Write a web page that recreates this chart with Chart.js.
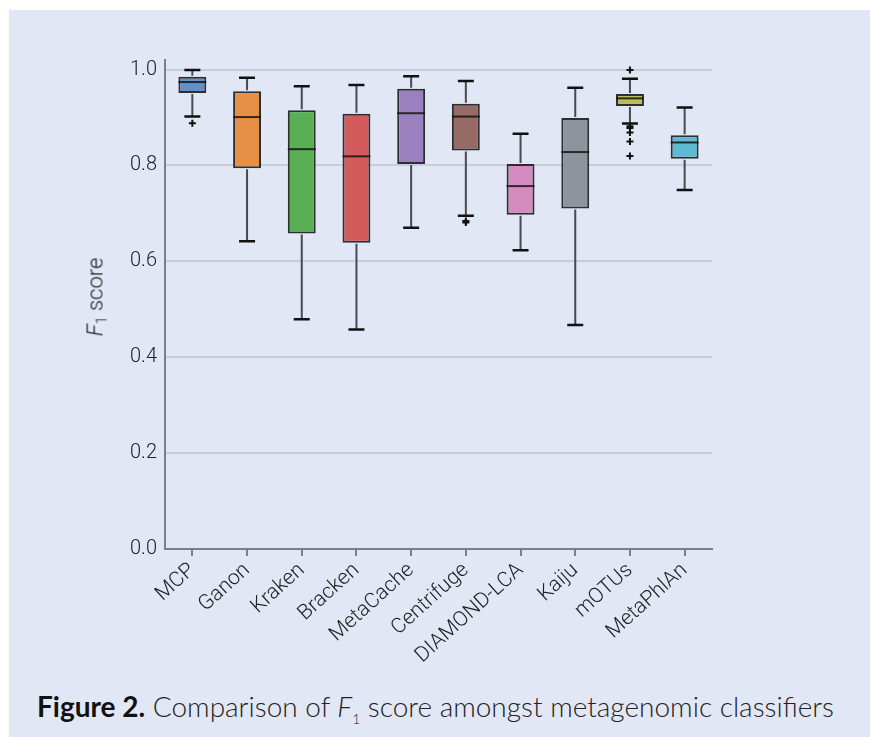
<!DOCTYPE html>
<html>
<head>
<meta charset="utf-8">
<script src="https://cdn.jsdelivr.net/npm/chart.js@4/dist/chart.umd.min.js"></script>
<style>
html,body{margin:0;padding:0;background:#ffffff;}
#fig{position:absolute;left:9px;top:10px;width:861px;height:727px;background:#e2e7f5;overflow:hidden;}
#wrap{position:absolute;left:0;top:0;width:861px;height:670px;}
#ytitle{position:absolute;left:87px;top:287px;transform:translate(-50%,-50%) rotate(-90deg);font-family:Roboto,"Open Sans",sans-serif;font-weight:300;font-size:22px;color:#222;white-space:nowrap;}
#ytitle sub{font-size:14px;vertical-align:-4px;}
#caption{position:absolute;left:28px;top:679px;font-family:Lato,"Open Sans",sans-serif;font-weight:300;font-size:28px;color:#222;white-space:nowrap;}
#caption b{font-weight:700;color:#111;}
#caption sub{font-size:14px;vertical-align:-7px;}
</style>
</head>
<body>
<div id="fig">
  <div id="wrap"><canvas id="c" width="861" height="670"></canvas></div>
  <div id="ytitle"><i>F</i><sub>1</sub> score</div>
  <div id="caption"><b>Figure 2.</b> Comparison of <i>F</i><sub>1</sub> score amongst metagenomic classifiers</div>
</div>
<script>
const categories = ['MCP','Ganon','Kraken','Bracken','MetaCache','Centrifuge','DIAMOND-LCA','Kaiju','mOTUs','MetaPhlAn'];
const whiskerLow  = [0.902, 0.642, 0.479, 0.458, 0.670, 0.695, 0.623, 0.467, 0.8875, 0.749];
const q1          = [0.951, 0.794, 0.658, 0.639, 0.803, 0.831, 0.697, 0.710, 0.924, 0.814];
const medians     = [0.974, 0.901, 0.834, 0.819, 0.909, 0.902, 0.757, 0.828, 0.940, 0.848];
const q3          = [0.985, 0.955, 0.915, 0.908, 0.960, 0.929, 0.803, 0.899, 0.949, 0.863];
const whiskerHigh = [0.999, 0.983, 0.965, 0.968, 0.986, 0.976, 0.866, 0.962, 0.981, 0.921];
const outlierCategories = ['MCP','Centrifuge','Centrifuge','mOTUs','mOTUs','mOTUs','mOTUs','mOTUs','mOTUs'];
const outlierValues     = [0.888, 0.681, 0.684, 0.999, 0.882, 0.878, 0.869, 0.850, 0.820];
const yTicks = [0, 0.2, 0.4, 0.6, 0.8, 1.0];
const boxColors = ['#6291ca','#e58f47','#5aaf55','#d45b5b','#9b80c0','#966b66','#d48bc0','#8f949c','#bcbb5b','#5ebad2'];

const boxPlugin = {
  id: 'boxParts',
  afterDatasetsDraw(chart) {
    const ctx = chart.ctx;
    const xs = chart.scales.x, ys = chart.scales.y;
    const meta = chart.getDatasetMeta(0);
    ctx.save();
    categories.forEach((c, i) => {
      const x = xs.getPixelForValue(i);
      const bar = meta.data[i];
      const half = bar.width / 2;
      const yLo = ys.getPixelForValue(whiskerLow[i]);
      const yQ1 = ys.getPixelForValue(q1[i]);
      const yQ3 = ys.getPixelForValue(q3[i]);
      const yHi = ys.getPixelForValue(whiskerHigh[i]);
      const yMed = ys.getPixelForValue(medians[i]);
      ctx.strokeStyle = '#4a4a4e';
      ctx.lineWidth = 2;
      ctx.beginPath();
      ctx.moveTo(x, yQ3 - 1); ctx.lineTo(x, yHi);
      ctx.moveTo(x, yQ1 + 1); ctx.lineTo(x, yLo);
      ctx.stroke();
      ctx.strokeStyle = '#111111';
      ctx.lineWidth = 2.5;
      ctx.beginPath();
      ctx.moveTo(x - 8, yHi); ctx.lineTo(x + 8, yHi);
      ctx.moveTo(x - 8, yLo); ctx.lineTo(x + 8, yLo);
      ctx.stroke();
      ctx.strokeStyle = 'rgba(20,20,20,0.85)';
      ctx.lineWidth = 2;
      ctx.beginPath();
      ctx.moveTo(x - half, yMed); ctx.lineTo(x + half, yMed);
      ctx.stroke();
    });
    ctx.restore();
  }
};

new Chart(document.getElementById('c'), {
  type: 'bar',
  data: {
    labels: categories,
    datasets: [
      {
        type: 'bar',
        data: categories.map((c, i) => [q1[i], q3[i]]),
        backgroundColor: boxColors,
        borderColor: 'rgba(25,25,25,0.9)',
        borderWidth: 2,
        borderSkipped: false,
        barPercentage: 0.51,
        categoryPercentage: 1.0,
        order: 2
      },
      {
        type: 'scatter',
        data: outlierCategories.map((c, i) => ({x: c, y: outlierValues[i]})),
        pointStyle: 'cross',
        radius: 3.5,
        borderColor: '#111',
        backgroundColor: '#111',
        borderWidth: 2,
        order: 1
      }
    ]
  },
  options: {
    responsive: false,
    animation: false,
    devicePixelRatio: 1,
    layout: { padding: { left: 0, right: 158, top: 50, bottom: 0 } },
    plugins: { legend: { display: false }, tooltip: { enabled: false }, title: { display: false } },
    scales: {
      x: {
        type: 'category',
        offset: true,
        afterFit(scale) { scale.height = 131; },
        grid: { offset: false, drawOnChartArea: false, drawTicks: true, tickLength: 7, color: '#7b7f88', lineWidth: 2 },
        border: { color: '#7b7f88', width: 2 },
        ticks: {
          minRotation: 42, maxRotation: 42, padding: 2,
          color: '#222', font: { family: 'Roboto', size: 21, weight: '300' }
        }
      },
      y: {
        min: 0, max: 1.02,
        afterFit(scale) { scale.width = 156; },
        afterBuildTicks(scale) { scale.ticks = yTicks.map(v => ({ value: v })); },
        grid: { drawTicks: false, color: '#c9ccdb', lineWidth: 2 },
        border: { color: '#7b7f88', width: 2 },
        ticks: {
          padding: 8,
          color: '#222', font: { family: 'Roboto', size: 20, weight: '300' },
          callback: v => Number(v).toFixed(1)
        }
      }
    }
  },
  plugins: [boxPlugin]
});
</script>
</body>
</html>
